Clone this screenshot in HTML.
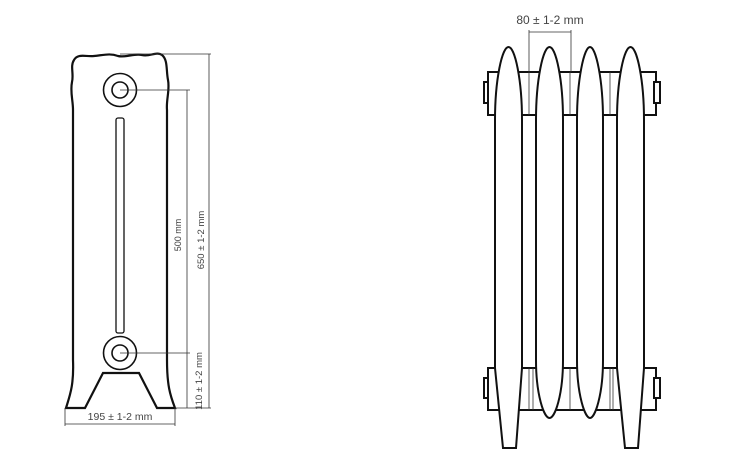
<!DOCTYPE html>
<html><head><style>html,body{margin:0;padding:0;background:#fff;width:754px;height:466px;overflow:hidden}
text{font-family:"Liberation Sans",sans-serif;fill:#444}</style></head>
<body>
<svg width="754" height="466" viewBox="0 0 754 466" xmlns="http://www.w3.org/2000/svg">
<g fill="none" stroke="#111">
<path stroke-width="2.2" fill="#fff" d="M66,408 C70,395 74,385 73,360 L73,110 C73,100 70,92 72,82 C74,74 70,66 74,60 C78,53 86,57 94,56 C104,55 110,53 118,56 C126,58 134,53 142,55 C150,57 156,51 162,55 C168,60 166,70 168,80 C170,90 166,100 167,110 L167,360 C167,385 170,395 175,408 L157,408 L139,373 L103,373 L85,408 Z"/>
<circle cx="120" cy="90" r="16.5" stroke-width="1.6"/>
<circle cx="120" cy="90" r="8" stroke-width="1.6"/>
<circle cx="120" cy="353" r="16.5" stroke-width="1.6"/>
<circle cx="120" cy="353" r="8" stroke-width="1.6"/>
<rect x="116" y="118" width="8" height="215" rx="2" stroke-width="1.3"/>
</g>
<g stroke="#333" stroke-width="0.8" fill="none">
<line x1="120" y1="54" x2="211" y2="54"/>
<line x1="209" y1="54" x2="209" y2="408"/>
<line x1="120" y1="90" x2="190" y2="90"/>
<line x1="187" y1="90" x2="187" y2="408"/>
<line x1="120" y1="353" x2="190" y2="353"/>
<line x1="175" y1="408" x2="211" y2="408"/>
<line x1="65" y1="408" x2="65" y2="426"/>
<line x1="175" y1="408" x2="175" y2="426"/>
<line x1="65" y1="424" x2="175" y2="424"/>
</g>
<text x="120" y="420" font-size="10.5" text-anchor="middle">195 ± 1-2 mm</text>
<text transform="translate(181,235) rotate(-90)" font-size="9" text-anchor="middle">500 mm</text>
<text transform="translate(204,240) rotate(-90)" font-size="9.5" text-anchor="middle">650 ± 1-2 mm</text>
<text transform="translate(202,381) rotate(-90)" font-size="9.5" text-anchor="middle">110 ± 1-2 mm</text>

<g stroke="#111" stroke-width="2" fill="#fff">
<rect x="484" y="82" width="6" height="21"/>
<rect x="488" y="72" width="168" height="43"/>
<rect x="654" y="82" width="6" height="21"/>
<rect x="484" y="378" width="6" height="20"/>
<rect x="488" y="368" width="168" height="42"/>
<rect x="654" y="378" width="6" height="20"/>
</g>
<g stroke="#111" stroke-width="1.8">
<line x1="522" y1="115" x2="536" y2="115"/><line x1="563" y1="115" x2="577" y2="115"/><line x1="603" y1="115" x2="617" y2="115"/>
<line x1="522" y1="368" x2="536" y2="368"/><line x1="563" y1="368" x2="577" y2="368"/><line x1="603" y1="368" x2="617" y2="368"/>
</g>
<g stroke="#333" stroke-width="0.8">
<line x1="529" y1="72" x2="529" y2="115"/><line x1="570" y1="72" x2="570" y2="115"/><line x1="610" y1="72" x2="610" y2="115"/>
<line x1="529" y1="368" x2="529" y2="410"/><line x1="533" y1="368" x2="533" y2="410"/>
<line x1="570" y1="368" x2="570" y2="410"/><line x1="610" y1="368" x2="610" y2="410"/><line x1="613" y1="368" x2="613" y2="410"/>
<line x1="529" y1="30" x2="529" y2="72"/><line x1="571" y1="30" x2="571" y2="72"/>
<line x1="529" y1="32" x2="571" y2="32"/>
</g>
<text x="550" y="24" font-size="12" text-anchor="middle">80 ± 1-2 mm</text>
<g stroke="#111" stroke-width="2" fill="#fff">
<path d="M495,120 C495,80 502,47 508.5,47 C515,47 522,80 522,120 L522,368 L516,448 L503,448 L495,368 Z"/>
<path d="M536,120 C536,80 543,47 549.5,47 C556,47 563,80 563,120 L563,360 C563,395 555,418 549.5,418 C544,418 536,395 536,360 Z"/>
<path d="M577,120 C577,80 584,47 590,47 C596,47 603,80 603,120 L603,360 C603,395 595,418 590,418 C585,418 577,395 577,360 Z"/>
<path d="M617,120 C617,80 624,47 630.5,47 C637,47 644,80 644,120 L644,368 L638,448 L625,448 L617,368 Z"/>
</g>
</svg>
</body></html>
